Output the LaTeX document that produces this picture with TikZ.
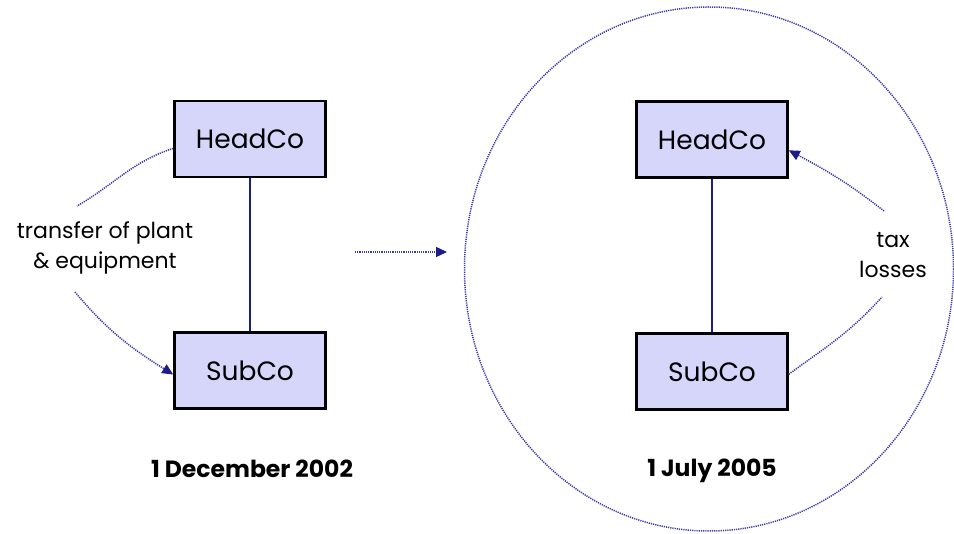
\documentclass[tikz,border=0pt]{standalone}
\usepackage{fontspec}
\setmainfont{Poppins}
\usetikzlibrary{arrows.meta,shapes.geometric}
\definecolor{boxfill}{HTML}{D6D6FA}
\definecolor{navy}{HTML}{1C1C8A}
\definecolor{dotblue}{HTML}{3A3AA8}
\tikzset{
  company/.style={draw=black, line width=2.6pt, fill=boxfill, minimum width=151pt, minimum height=76pt, inner sep=0pt, font=\fontsize{26.5}{30}\selectfont},
  link/.style={navy, line width=1.8pt},
  dotline/.style={dotblue, line width=1.5pt, dash pattern=on 1.2pt off 1.0pt},
  tip/.style={-{Triangle[length=11pt,width=10pt,fill=navy,color=navy]}},
  label/.style={align=center, font=\fontsize{22}{30}\selectfont},
  datelabel/.style={font=\fontsize{23.5}{26}\selectfont\bfseries}
}
\begin{document}
\begin{tikzpicture}[x=1pt,y=-1pt]
\useasboundingbox (0,0) rectangle (954,534);

% before: 1 December 2002
\node[company] (hl) at (250,139) {HeadCo};
\node[company] (sl) at (250,370.5) {SubCo};
\draw[link] (hl.south) -- (sl.north);
\node[label] (tl) at (105,248) {transfer of plant\\\& equipment};
\coordinate (l1) at (77,206);
\coordinate (l2) at (75,292);
\draw[dotline] (hl.187) to[out=198,in=30] (l1);
\draw[dotline,tip] (l2) to[out=-50,in=148] (sl.183);

\node[datelabel] (dl) at (252,469) {1 December 2002};

% transition arrow
\coordinate (a1) at (355,252);
\coordinate (a2) at (447,252);
\draw[dotline,tip] (a1) -- (a2);

% after: 1 July 2005
\node[draw=dotblue, line width=1.5pt, dash pattern=on 1.2pt off 1.0pt, ellipse, minimum width=489pt, minimum height=524pt, inner sep=0pt] (ring) at (709,269) {};
\node[company] (hr) at (712,139.5) {HeadCo};
\node[company] (sr) at (712,371.5) {SubCo};
\draw[link] (hr.south) -- (sr.north);
\node[label] (tr) at (893,255) {tax\\losses};
\coordinate (r1) at (882,297);
\coordinate (r2) at (884,211);
\draw[dotline] (sr.-2) to[out=36,in=228] (r1);
\draw[dotline,tip] (r2) to[out=142,in=-28] (hr.-8);
\node[datelabel] (dr) at (712,471) {1 July 2005};
\end{tikzpicture}
\end{document}
